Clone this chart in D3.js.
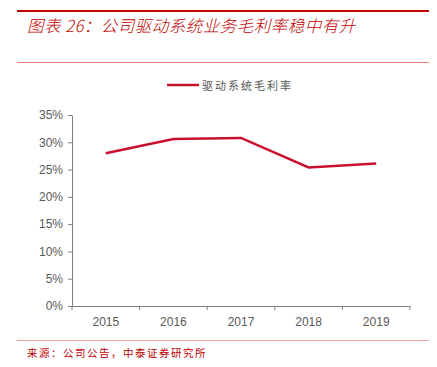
<!DOCTYPE html>
<html><head><meta charset="utf-8">
<script src="https://cdn.jsdelivr.net/npm/d3@7"></script>
<style>body{margin:0;background:#fff;}svg{display:block;}</style>
</head><body>
<script>
const categories = ["2015","2016","2017","2018","2019"];
const seriesName = "驱动系统毛利率";
const values = [0.280, 0.306, 0.308, 0.254, 0.261];
const yTicks = [0,0.05,0.10,0.15,0.20,0.25,0.30,0.35];
const titleText = "图表 26：公司驱动系统业务毛利率稳中有升";
const sourceText = "来源：公司公告，中泰证券研究所";

const W=437,H=367;
const svg=d3.select("body").append("svg").attr("width",W).attr("height",H);
const red="#C00000", line="#C8102E", gray="#595959";
const font="'Noto Sans CJK SC', sans-serif";

svg.append("line").attr("x1",17).attr("x2",429).attr("y1",11).attr("y2",11).attr("stroke",red).attr("stroke-width",2);
svg.append("text").attr("x",27).attr("y",32).text(titleText).attr("fill",red)
  .attr("font-family",font).attr("font-size",16.5).attr("font-style","italic").attr("font-weight",300).attr("letter-spacing",0.5);
svg.append("line").attr("x1",17).attr("x2",429).attr("y1",62.5).attr("y2",62.5).attr("stroke","#E88080").attr("stroke-width",1);

const x=d3.scaleBand().domain(categories).range([72,410]);
const y=d3.scaleLinear().domain([0,0.35]).range([306,115]);

const yAxis=d3.axisLeft(y).tickValues(yTicks).tickFormat(d=>Math.round(d*100)+"%").tickSize(4).tickSizeOuter(0);
const gy=svg.append("g").attr("transform","translate(72,0)").call(yAxis);
const xAxis=d3.axisBottom(x).tickSize(0);
const gx=svg.append("g").attr("transform","translate(0,306)").call(xAxis);
gx.selectAll(".tick text").attr("dy",0).attr("y",20);
const bounds=categories.map(c=>x(c)).concat([x.range()[1]]);
gx.selectAll(".bt").data(bounds).enter().append("line").attr("x1",d=>d).attr("x2",d=>d).attr("y1",0).attr("y2",4).attr("stroke","#808080");
[gy,gx].forEach(g=>{g.selectAll(".domain,line").attr("stroke","#808080");g.selectAll("text").attr("fill",gray).attr("font-family","Arial, 'Liberation Sans', sans-serif").attr("font-size",12);});
gy.selectAll(".tick text").attr("x",-9);

const lg=d3.line().x((d,i)=>x(categories[i])+x.bandwidth()/2).y(d=>y(d));
svg.append("path").datum(values).attr("d",lg).attr("fill","none").attr("stroke",line).attr("stroke-width",2.5);

svg.append("line").attr("x1",167).attr("x2",199).attr("y1",85).attr("y2",85).attr("stroke",line).attr("stroke-width",2.5);
svg.append("text").attr("x",202).attr("y",89.5).text(seriesName).attr("fill",gray).attr("font-family",font).attr("font-size",11).attr("letter-spacing",2);

svg.append("line").attr("x1",17).attr("x2",429).attr("y1",340.5).attr("y2",340.5).attr("stroke","#F0A0A0").attr("stroke-width",1);
svg.append("text").attr("x",27).attr("y",357).text(sourceText).attr("fill",red).attr("font-family",font).attr("font-size",10.5).attr("letter-spacing",1.5);
</script>
</body></html>
